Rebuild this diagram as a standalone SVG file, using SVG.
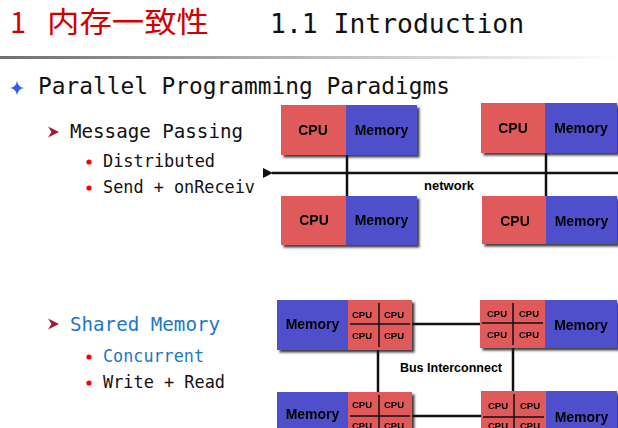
<svg xmlns="http://www.w3.org/2000/svg" width="618" height="428" viewBox="0 0 618 428">
<style>
.mono{font-family:"DejaVu Sans Mono","Liberation Mono",monospace}
.lbl{font-family:"Liberation Sans",Arial,sans-serif;font-weight:bold;fill:#000;text-anchor:middle;dominant-baseline:central}
.cpu{fill:#e05a5c}
.mem{fill:#5050cc}
.wire{stroke:#111;stroke-width:2.5;fill:none}
.div{stroke:#111;stroke-width:1.5}
.dot{fill:#ff0000}
.arr{fill:#a3173a}
</style>
<defs>
<filter id="sh" x="-5%" y="-5%" width="115%" height="125%">
<feDropShadow dx="2.5" dy="2.5" stdDeviation="1.2" flood-color="#222" flood-opacity="0.85"/>
</filter>
<linearGradient id="sep" x1="0" y1="0" x2="1" y2="0">
<stop offset="0" stop-color="#6f6f6f"/>
<stop offset="0.6" stop-color="#c8c8c8"/>
<stop offset="1" stop-color="#ffffff"/>
</linearGradient>
<marker id="ah" markerWidth="10" markerHeight="10" refX="1" refY="5" orient="auto" markerUnits="userSpaceOnUse">
<path d="M0,5 L10,0 L10,10 Z" fill="#111"/>
</marker>
</defs>
<rect width="618" height="428" fill="#fff"/>

<g id="title">
<text x="10" y="33" font-family="'Noto Sans CJK SC',sans-serif" font-size="29" fill="#d40000">1</text>
<text x="47" y="33" font-family="'Noto Sans CJK SC',sans-serif" font-size="29" fill="#d40000" textLength="162" lengthAdjust="spacingAndGlyphs">内存一致性</text>
<text x="270" y="33" class="mono" font-size="26" fill="#111" textLength="254" lengthAdjust="spacingAndGlyphs">1.1 Introduction</text>
<rect x="0" y="56" width="618" height="3" fill="url(#sep)"/>
</g>

<g id="bullets">
<path d="M17,81 Q18,87 24,88 Q18,89 17,95 Q16,89 10,88 Q16,87 17,81 Z" fill="#2e5ff0"/>
<text x="38" y="94" class="mono" font-size="22.5" fill="#111" textLength="412" lengthAdjust="spacingAndGlyphs">Parallel Programming Paradigms</text>
<path d="M48,126.5 L59,132 L48,137.5 L51.5,132 Z" class="arr"/>
<text x="70" y="138" class="mono" font-size="19" fill="#111" textLength="173" lengthAdjust="spacingAndGlyphs">Message Passing</text>
<circle cx="89" cy="162" r="2.6" class="dot"/>
<text x="103" y="167" class="mono" font-size="17" fill="#111" textLength="112" lengthAdjust="spacingAndGlyphs">Distributed</text>
<circle cx="89" cy="188" r="2.6" class="dot"/>
<text x="103" y="193" class="mono" font-size="17" fill="#111" textLength="152" lengthAdjust="spacingAndGlyphs">Send + onReceiv</text>
<path d="M48,318.5 L59,324 L48,329.5 L51.5,324 Z" class="arr"/>
<text x="70" y="331" class="mono" font-size="19" fill="#1a78c8" textLength="150" lengthAdjust="spacingAndGlyphs">Shared Memory</text>
<circle cx="89" cy="357" r="2.6" class="dot"/>
<text x="103" y="362" class="mono" font-size="17" fill="#1a78c8" textLength="101" lengthAdjust="spacingAndGlyphs">Concurrent</text>
<circle cx="89" cy="383" r="2.6" class="dot"/>
<text x="103" y="388" class="mono" font-size="17" fill="#111" textLength="122" lengthAdjust="spacingAndGlyphs">Write + Read</text>
</g>

<g id="connectors">
<line x1="618" y1="173" x2="272" y2="173" class="wire" marker-end="url(#ah)"/>
<line x1="347" y1="155" x2="347" y2="196" class="wire"/>
<line x1="546" y1="153" x2="546" y2="196" class="wire"/>
<line x1="412" y1="324" x2="480" y2="324" class="wire"/>
<line x1="412" y1="416" x2="481" y2="416" class="wire"/>
<line x1="378" y1="350" x2="378" y2="392" class="wire"/>
<line x1="513" y1="348" x2="513" y2="391" class="wire"/>
<text x="449" y="185" class="lbl" font-size="13">network</text>
<text x="451" y="368" class="lbl" font-size="12.5">Bus Interconnect</text>
</g>

<g id="mp1" filter="url(#sh)">
<rect x="281" y="105" width="65" height="50" class="cpu"/>
<rect x="346" y="105" width="71" height="50" class="mem"/>
<text x="313" y="130" class="lbl" font-size="14">CPU</text>
<text x="381.5" y="130" class="lbl" font-size="14">Memory</text>
</g>
<g id="mp2" filter="url(#sh)">
<rect x="481" y="103" width="64" height="50" class="cpu"/>
<rect x="545" y="103" width="72" height="50" class="mem"/>
<text x="513" y="128" class="lbl" font-size="14">CPU</text>
<text x="581" y="128" class="lbl" font-size="14">Memory</text>
</g>
<g id="mp3" filter="url(#sh)">
<rect x="281" y="196" width="65" height="49" class="cpu"/>
<rect x="346" y="196" width="71" height="49" class="mem"/>
<text x="314" y="220" class="lbl" font-size="14">CPU</text>
<text x="381.5" y="220" class="lbl" font-size="14">Memory</text>
</g>
<g id="mp4" filter="url(#sh)">
<rect x="482" y="196" width="64" height="48" class="cpu"/>
<rect x="546" y="196" width="71" height="48" class="mem"/>
<text x="515" y="221" class="lbl" font-size="14">CPU</text>
<text x="581.5" y="221" class="lbl" font-size="14">Memory</text>
</g>

<g id="sm1" filter="url(#sh)">
<rect x="277" y="300" width="71" height="50" class="mem"/>
<rect x="348" y="300" width="64" height="50" class="cpu"/>
<line x1="350" y1="324" x2="410" y2="324" class="div"/>
<line x1="379" y1="303" x2="379" y2="347" class="div"/>
<text x="312.5" y="324" class="lbl" font-size="14">Memory</text>
<text x="362" y="314" class="lbl" font-size="9.5">CPU</text>
<text x="394" y="314" class="lbl" font-size="9.5">CPU</text>
<text x="362" y="335" class="lbl" font-size="9.5">CPU</text>
<text x="394" y="335" class="lbl" font-size="9.5">CPU</text>
</g>
<g id="sm2" filter="url(#sh)">
<rect x="480" y="300" width="65" height="48" class="cpu"/>
<rect x="545" y="300" width="72" height="48" class="mem"/>
<line x1="482" y1="323" x2="543" y2="323" class="div"/>
<line x1="513" y1="303" x2="513" y2="345" class="div"/>
<text x="581" y="325" class="lbl" font-size="14">Memory</text>
<text x="497" y="313" class="lbl" font-size="9.5">CPU</text>
<text x="529" y="313" class="lbl" font-size="9.5">CPU</text>
<text x="497" y="334" class="lbl" font-size="9.5">CPU</text>
<text x="529" y="334" class="lbl" font-size="9.5">CPU</text>
</g>
<g id="sm3" filter="url(#sh)">
<rect x="277" y="392" width="71" height="50" class="mem"/>
<rect x="348" y="392" width="64" height="50" class="cpu"/>
<line x1="350" y1="416" x2="410" y2="416" class="div"/>
<line x1="379" y1="395" x2="379" y2="440" class="div"/>
<text x="312.5" y="414" class="lbl" font-size="14">Memory</text>
<text x="362" y="404" class="lbl" font-size="9.5">CPU</text>
<text x="394" y="404" class="lbl" font-size="9.5">CPU</text>
<text x="362" y="425" class="lbl" font-size="9.5">CPU</text>
<text x="394" y="425" class="lbl" font-size="9.5">CPU</text>
</g>
<g id="sm4" filter="url(#sh)">
<rect x="481" y="391" width="65" height="52" class="cpu"/>
<rect x="546" y="391" width="71" height="52" class="mem"/>
<line x1="483" y1="417" x2="544" y2="417" class="div"/>
<line x1="514" y1="394" x2="514" y2="440" class="div"/>
<text x="581.5" y="417" class="lbl" font-size="14">Memory</text>
<text x="498" y="405" class="lbl" font-size="9.5">CPU</text>
<text x="530" y="405" class="lbl" font-size="9.5">CPU</text>
<text x="498" y="425" class="lbl" font-size="9.5">CPU</text>
<text x="530" y="425" class="lbl" font-size="9.5">CPU</text>
</g>
</svg>
